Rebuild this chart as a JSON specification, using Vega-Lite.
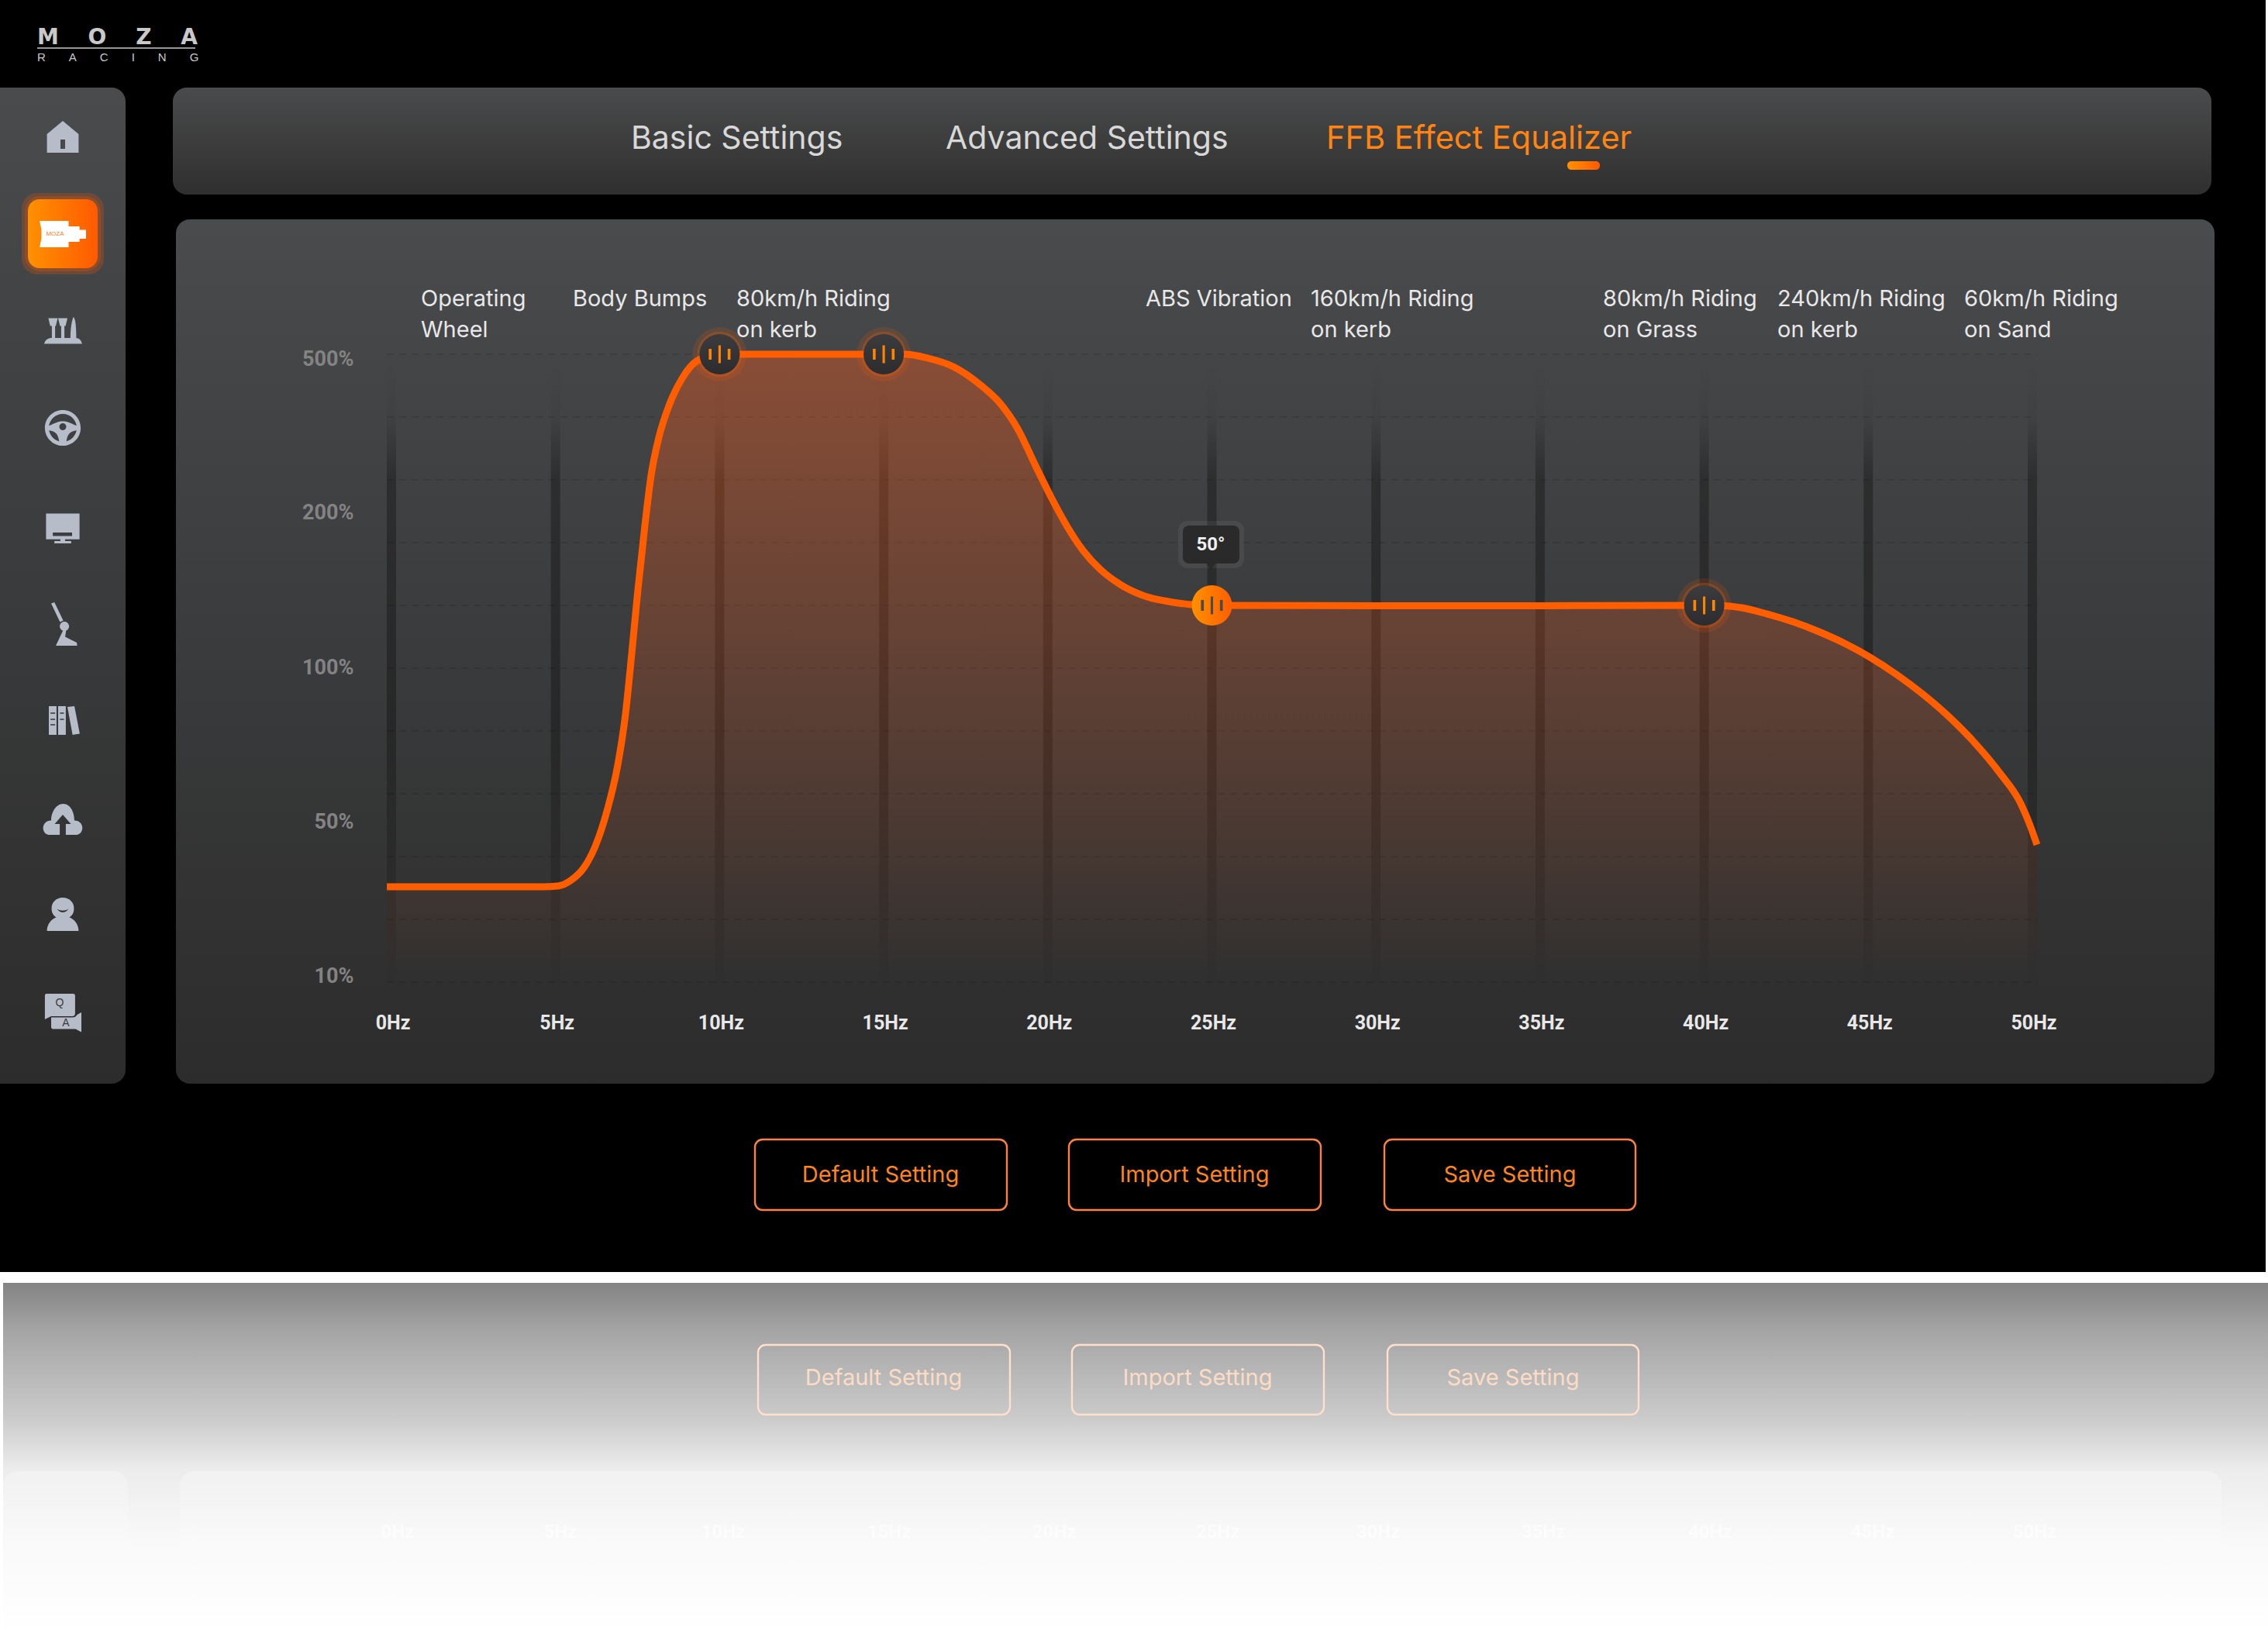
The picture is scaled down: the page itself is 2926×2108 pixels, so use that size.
{"$schema":"https://vega.github.io/schema/vega-lite/v6.json","width":2926,"height":2108,"padding":0,"autosize":{"type":"fit","contains":"padding"},"background":"#ffffff","config":{"view":{"stroke":null},"axis":{"title":null}},
"datasets":{
"curve":[{"hz":-0.14,"pct":34.3},{"hz":4.61,"pct":34.3},{"hz":5.08,"pct":34.5},{"hz":5.48,"pct":36},{"hz":5.86,"pct":39.1},{"hz":6.21,"pct":44.6},{"hz":6.57,"pct":54.6},{"hz":6.9,"pct":69.4},{"hz":7.13,"pct":85.2},{"hz":7.32,"pct":108.9},{"hz":7.51,"pct":149.9},{"hz":7.72,"pct":190.4},{"hz":7.91,"pct":267.4},{"hz":8.15,"pct":341.5},{"hz":8.46,"pct":402.2},{"hz":8.86,"pct":454.1},{"hz":9.33,"pct":488.1},{"hz":10,"pct":500},{"hz":15,"pct":500},{"hz":15.66,"pct":500},{"hz":16.34,"pct":492.6},{"hz":17.12,"pct":476.3},{"hz":17.9,"pct":443.7},{"hz":18.54,"pct":406.7},{"hz":19.08,"pct":357.8},{"hz":19.65,"pct":283.7},{"hz":20.12,"pct":224.4},{"hz":20.6,"pct":189.9},{"hz":21.07,"pct":175.1},{"hz":21.61,"pct":162.7},{"hz":22.25,"pct":152.8},{"hz":23.03,"pct":145.4},{"hz":23.81,"pct":142},{"hz":24.37,"pct":140.5},{"hz":25,"pct":140},{"hz":30,"pct":139.8},{"hz":35,"pct":139.8},{"hz":40,"pct":140},{"hz":40.58,"pct":139.8},{"hz":41.14,"pct":138.5},{"hz":41.92,"pct":134.5},{"hz":42.7,"pct":129.6},{"hz":43.5,"pct":123.2},{"hz":44.28,"pct":115.8},{"hz":45.06,"pct":106.9},{"hz":45.86,"pct":98},{"hz":46.64,"pct":91.9},{"hz":47.42,"pct":84.9},{"hz":48.22,"pct":76.5},{"hz":49.01,"pct":66.6},{"hz":49.65,"pct":56.8},{"hz":49.95,"pct":49.5},{"hz":50.14,"pct":45}],
"tracks":[{"hz":0,"top":500,"bottom":10},{"hz":5,"top":500,"bottom":10},{"hz":10,"top":500,"bottom":10},{"hz":15,"top":500,"bottom":10},{"hz":20,"top":500,"bottom":10},{"hz":25,"top":500,"bottom":10},{"hz":30,"top":500,"bottom":10},{"hz":35,"top":500,"bottom":10},{"hz":40,"top":500,"bottom":10},{"hz":45,"top":500,"bottom":10},{"hz":50,"top":500,"bottom":10}],
"grid":[{"level":500,"a":-0.14,"b":50.14},{"level":380,"a":-0.14,"b":50.14},{"level":260,"a":-0.14,"b":50.14},{"level":180,"a":-0.14,"b":50.14},{"level":140,"a":-0.14,"b":50.14},{"level":100,"a":-0.14,"b":50.14},{"level":80,"a":-0.14,"b":50.14},{"level":60,"a":-0.14,"b":50.14},{"level":42,"a":-0.14,"b":50.14},{"level":26,"a":-0.14,"b":50.14},{"level":10,"a":-0.14,"b":50.14}],
"knobs":[{"hz":10,"pct":500,"state":"idle"},{"hz":15,"pct":500,"state":"idle"},{"hz":40,"pct":140,"state":"idle"},{"hz":25,"pct":140,"state":"active"}],
"ylabels":[{"hz":0,"pct":500},{"hz":0,"pct":200},{"hz":0,"pct":100},{"hz":0,"pct":50},{"hz":0,"pct":10}],
"icons":[{"icon":"home","x":81,"y":177},{"icon":"device","x":81,"y":302},{"icon":"pedals","x":81,"y":427},{"icon":"wheel","x":81,"y":552},{"icon":"monitor","x":81,"y":681},{"icon":"shifter","x":81,"y":805},{"icon":"books","x":81,"y":930},{"icon":"cloud","x":81,"y":1057},{"icon":"person","x":81,"y":1180},{"icon":"qa","x":81,"y":1306}]
},
"resolve":{"scale":{"x":"independent","y":"independent"}},
"layer":[
{"encoding":{"x":{"field":"x","type":"quantitative","scale":{"domain":[0,2926],"range":[0,2926],"nice":false,"zero":false},"axis":null},"y":{"field":"y","type":"quantitative","scale":{"domain":[0,2108],"range":[0,2108],"nice":false,"zero":false},"axis":null},"x2":{"field":"x2"},"y2":{"field":"y2"}},
"layer":[
{"data":{"values":[{"x":0,"x2":2923,"y":0,"y2":1641}]},"mark":{"type":"rect","fill":"#000000"}},
{"data":{"values":[{"x":4,"x2":2926,"y":1655,"y2":2108}]},"mark":{"type":"rect","fill":{"gradient":"linear","x1":0,"y1":0,"x2":0,"y2":1,"stops":[{"offset":0,"color":"#838383"},{"offset":0.137,"color":"#a5a5a5"},{"offset":0.386,"color":"#cbcbcb"},{"offset":0.53,"color":"#ececec"},{"offset":0.735,"color":"#f9f9f9"},{"offset":1,"color":"#ffffff"}]}}},
{"data":{"values":[{"x":4,"x2":165,"y":1898,"y2":2040},{"x":232,"x2":2866,"y":1898,"y2":2040}]},"mark":{"type":"rect","cornerRadius":18,"fill":{"gradient":"linear","x1":0,"y1":0,"x2":0,"y2":1,"stops":[{"offset":0,"color":"rgba(255,255,255,0.28)"},{"offset":1,"color":"rgba(255,255,255,0)"}]}}},
{"data":{"values":[{"x":0,"x2":162,"y":113,"y2":1398}]},"mark":{"type":"rect","cornerRadiusTopRight":18,"cornerRadiusBottomRight":18,"fill":{"gradient":"linear","x1":0,"y1":0,"x2":0,"y2":1,"stops":[{"offset":0,"color":"#4a4b4c"},{"offset":0.2,"color":"#434445"},{"offset":0.5,"color":"#3a3b3c"},{"offset":1,"color":"#2c2c2c"}]}}},
{"data":{"values":[{"x":223,"x2":2853,"y":113,"y2":251}]},"mark":{"type":"rect","cornerRadius":18,"fill":{"gradient":"linear","x1":0,"y1":0,"x2":0,"y2":1,"stops":[{"offset":0,"color":"#4a4b4c"},{"offset":1,"color":"#2f2f2f"}]}}},
{"data":{"values":[{"x":227,"x2":2857,"y":283,"y2":1398}]},"mark":{"type":"rect","cornerRadius":18,"fill":{"gradient":"linear","x1":0,"y1":0,"x2":0,"y2":1,"stops":[{"offset":0,"color":"#4a4b4c"},{"offset":0.2,"color":"#434445"},{"offset":0.5,"color":"#3a3b3c"},{"offset":1,"color":"#2c2c2c"}]}}},
{"data":{"values":[{"x":28,"x2":134,"y":249,"y2":354},{"x":32,"x2":130,"y":253,"y2":350}]},"mark":{"type":"rect","cornerRadius":20,"fill":"#ff5a00","opacity":0.22}},
{"data":{"values":[{"x":36,"x2":126,"y":257,"y2":346}]},"mark":{"type":"rect","cornerRadius":15,"fill":{"gradient":"linear","x1":0,"y1":0,"x2":1,"y2":0,"stops":[{"offset":0,"color":"#ff9100"},{"offset":1,"color":"#ff5a00"}]}}},
{"data":{"values":[{"x":2022,"x2":2064,"y":208,"y2":219}]},"mark":{"type":"rect","cornerRadius":5,"fill":{"gradient":"linear","x1":0,"y1":0,"x2":1,"y2":0,"stops":[{"offset":0,"color":"#ff9100"},{"offset":1,"color":"#ff5a00"}]}}},
{"data":{"values":[{"x":974,"x2":1299,"y":1470,"y2":1561},{"x":1379,"x2":1704,"y":1470,"y2":1561},{"x":1786,"x2":2110,"y":1470,"y2":1561}]},"mark":{"type":"rect","filled":false,"stroke":"#ff8040","strokeWidth":2.4,"cornerRadius":10}},
{"data":{"values":[{"x":978,"x2":1303,"y":1735,"y2":1825},{"x":1383,"x2":1708,"y":1735,"y2":1825},{"x":1790,"x2":2114,"y":1735,"y2":1825}]},"mark":{"type":"rect","filled":false,"stroke":"#ffe0cc","strokeWidth":2.4,"cornerRadius":10}},
{"data":{"values":[{"x":48,"x2":252,"y":62,"y2":62}]},"mark":{"type":"rule","stroke":"#c9c9c9","strokeWidth":1.5}},
{"data":{"name":"icons"},"mark":{"type":"point","filled":true,"size":3600,"opacity":1,"strokeWidth":0},"encoding":{"x2":null,"y2":null,"color":{"condition":{"test":"datum.icon==='device'","value":"#ffffff"},"value":"#b6bdc9"},"shape":{"field":"icon","type":"nominal","legend":null,"scale":{"domain":["home","device","pedals","wheel","monitor","shifter","books","cloud","person","qa"],"range":[
"M0,-0.7 L0.68,-0.13 L0.68,0.67 L-0.68,0.67 L-0.68,-0.13 Z M-0.1,0.1 L-0.1,0.5 L0.1,0.5 L0.1,0.1 Z",
"M-1,-0.57 L0.25,-0.57 L0.25,-0.33 L0.72,-0.33 L0.72,-0.18 L1,-0.18 L1,0.2 L0.72,0.2 L0.72,0.33 L0.25,0.33 L0.25,0.57 L-1,0.57 L-0.92,0.2 L-0.92,-0.2 Z",
"M-0.62,-0.55 L-0.22,-0.55 L-0.3,-0.22 L-0.33,-0.22 L-0.33,0.35 L-0.47,0.35 L-0.47,-0.22 L-0.54,-0.22 Z M-0.2,-0.55 L0.2,-0.55 L0.12,-0.22 L0.07,-0.22 L0.07,0.35 L-0.07,0.35 L-0.07,-0.22 L-0.12,-0.22 Z M0.45,-0.6 C0.55,-0.55 0.58,-0.2 0.58,0.35 L0.33,0.35 C0.33,0 0.35,-0.3 0.45,-0.6 Z M-0.8,0.55 C-0.75,0.35 -0.6,0.3 -0.45,0.3 L0.55,0.3 C0.7,0.3 0.8,0.4 0.83,0.55 Z",
"M0.77,0 A0.77,0.77 0 1 1 -0.77,0 A0.77,0.77 0 1 1 0.77,0 Z M0.6,0 A0.6,0.6 0 1 0 -0.6,0 A0.6,0.6 0 1 0 0.6,0 Z M-0.62,-0.08 C-0.3,-0.2 -0.25,-0.28 0,-0.28 C0.25,-0.28 0.3,-0.2 0.62,-0.08 L0.62,0.1 C0.3,0.15 0.2,0.25 0.15,0.62 L-0.15,0.62 C-0.2,0.25 -0.3,0.15 -0.62,0.1 Z M0.15,-0.05 A0.15,0.15 0 1 0 -0.15,-0.05 A0.15,0.15 0 1 0 0.15,-0.05 Z",
"M-0.72,-0.62 L0.72,-0.62 L0.72,0.49 L-0.72,0.49 Z M-0.43,0.2 L-0.43,0.35 L0.4,0.35 L0.4,0.2 Z M-0.1,0.49 L0.1,0.49 L0.1,0.57 L0.36,0.57 L0.36,0.67 L-0.36,0.67 L-0.36,0.57 L-0.1,0.57 Z",
"M-0.5,-0.88 L-0.36,-0.93 L0.02,-0.15 L-0.12,-0.08 Z M0.27,0.1 A0.2,0.2 0 1 1 -0.13,0.1 A0.2,0.2 0 1 1 0.27,0.1 Z M0,0.3 L0.15,0.25 L0.1,0.55 L0.6,0.8 L0.62,0.93 L-0.3,0.93 Z",
"M-0.6,-0.63 L-0.27,-0.63 L-0.27,0.6 L-0.6,0.6 Z M-0.53,-0.36 L-0.53,-0.31 L-0.33,-0.31 L-0.33,-0.36 Z M-0.53,-0.09 L-0.53,-0.04 L-0.33,-0.04 L-0.33,-0.09 Z M-0.53,0.14 L-0.53,0.19 L-0.33,0.19 L-0.33,0.14 Z M-0.2,-0.63 L0.13,-0.63 L0.13,0.6 L-0.2,0.6 Z M-0.12,-0.36 L-0.12,-0.31 L0.05,-0.31 L0.05,-0.36 Z M-0.12,-0.09 L-0.12,-0.04 L0.05,-0.04 L0.05,-0.09 Z M0.2,-0.6 L0.5,-0.63 L0.73,0.55 L0.42,0.6 Z",
"M-0.55,0.67 C-0.95,0.67 -0.95,0.05 -0.5,0.05 C-0.5,-0.3 -0.3,-0.67 0.02,-0.67 C0.33,-0.67 0.5,-0.3 0.5,0.05 C0.95,0.05 0.95,0.67 0.55,0.67 Z M0,-0.2 L-0.35,0.2 L-0.13,0.2 L-0.13,0.67 L0.13,0.67 L0.13,0.2 L0.35,0.2 Z",
"M0,-0.73 C0.3,-0.73 0.5,-0.5 0.48,-0.25 C0.48,-0.05 0.38,0.05 0.28,0.12 C0.5,0.2 0.68,0.42 0.68,0.7 L-0.68,0.7 C-0.68,0.42 -0.5,0.2 -0.28,0.12 C-0.38,0.05 -0.48,-0.05 -0.48,-0.25 C-0.5,-0.5 -0.3,-0.73 0,-0.73 Z M-0.25,-0.25 C-0.1,-0.05 0.1,-0.05 0.25,-0.25 C0.1,-0.15 -0.1,-0.15 -0.25,-0.25 Z",
"M-0.7,-0.8 L0.45,-0.8 Q0.53,-0.8 0.53,-0.7 L0.53,0.05 Q0.53,0.17 0.4,0.17 L-0.5,0.17 L-0.77,0.3 L-0.77,-0.72 Q-0.77,-0.8 -0.7,-0.8 Z M-0.5,0.22 L0.43,0.22 Q0.55,0.22 0.62,0.1 L0.8,0 L0.8,0.85 L0.55,0.72 L-0.42,0.72 Q-0.5,0.72 -0.5,0.62 Z"
]}}}}
]},
{"layer":[
{"data":{"name":"tracks"},"mark":{"type":"bar","size":12,"orient":"vertical","fill":{"gradient":"linear","x1":0,"y1":0,"x2":0,"y2":1,"stops":[{"offset":0,"color":"rgba(0,0,0,0)"},{"offset":0.1,"color":"rgba(0,0,0,0.04)"},{"offset":0.2,"color":"rgba(0,0,0,0.3)"},{"offset":0.6,"color":"rgba(0,0,0,0.3)"},{"offset":0.85,"color":"rgba(0,0,0,0.15)"},{"offset":1,"color":"rgba(0,0,0,0.02)"}]}},"encoding":{"x":{"field":"hz","type":"quantitative","scale":{"domain":[0,50],"range":[505,2622],"nice":false,"zero":false,"padding":0},"axis":null},"y":{"field":"top","type":"quantitative","scale":{"domain":[10,50,100,200,500],"range":[1267,1064.5,862,659.5,457],"nice":false,"zero":false},"axis":null},"y2":{"field":"bottom"}}},
{"data":{"name":"grid"},"mark":{"type":"rule","stroke":"rgba(0,0,0,0.14)","strokeWidth":1.5,"strokeDash":[9,7]},"encoding":{"x":{"field":"a","type":"quantitative","axis":null},"x2":{"field":"b"},"y":{"field":"level","type":"quantitative","axis":null}}},
{"data":{"name":"curve"},"mark":{"type":"area","interpolate":"monotone","fill":{"gradient":"linear","x1":0,"y1":0,"x2":0,"y2":1,"stops":[{"offset":0,"color":"rgba(255,90,25,0.37)"},{"offset":0.5,"color":"rgba(255,90,25,0.2)"},{"offset":0.8,"color":"rgba(255,90,25,0.09)"},{"offset":1,"color":"rgba(255,90,25,0)"}]}},"encoding":{"x":{"field":"hz","type":"quantitative","axis":null},"y":{"field":"pct","type":"quantitative","axis":null},"y2":{"datum":10}}},
{"data":{"name":"curve"},"mark":{"type":"line","interpolate":"monotone","stroke":"#ff5e00","strokeWidth":9,"strokeCap":"butt"},"encoding":{"x":{"field":"hz","type":"quantitative","axis":null},"y":{"field":"pct","type":"quantitative","axis":null}}},
{"data":{"name":"knobs"},"transform":[{"filter":"datum.state==='idle'"}],"mark":{"type":"point","shape":"circle","filled":true,"size":4900,"fill":"#ff5e00","opacity":0.14,"strokeWidth":0},"encoding":{"x":{"field":"hz","type":"quantitative","axis":null},"y":{"field":"pct","type":"quantitative","axis":null}}},
{"data":{"name":"knobs"},"transform":[{"filter":"datum.state==='idle'"}],"mark":{"type":"point","shape":"circle","filled":true,"size":3400,"fill":"#ff5e00","opacity":0.25,"strokeWidth":0},"encoding":{"x":{"field":"hz","type":"quantitative","axis":null},"y":{"field":"pct","type":"quantitative","axis":null}}},
{"data":{"name":"knobs"},"transform":[{"filter":"datum.state==='idle'"}],"mark":{"type":"point","shape":"circle","filled":true,"size":2704,"opacity":1,"strokeWidth":0,"fill":{"gradient":"linear","x1":0,"y1":0,"x2":0,"y2":1,"stops":[{"offset":0,"color":"#3c3c3e"},{"offset":1,"color":"#2c2c2e"}]}},"encoding":{"x":{"field":"hz","type":"quantitative","axis":null},"y":{"field":"pct","type":"quantitative","axis":null}}},
{"data":{"name":"knobs"},"transform":[{"filter":"datum.state==='active'"}],"mark":{"type":"point","shape":"circle","filled":true,"size":2704,"opacity":1,"strokeWidth":0,"fill":{"gradient":"linear","x1":0,"y1":0,"x2":1,"y2":0,"stops":[{"offset":0,"color":"#ff9100"},{"offset":1,"color":"#ff5e00"}]}},"encoding":{"x":{"field":"hz","type":"quantitative","axis":null},"y":{"field":"pct","type":"quantitative","axis":null}}},
{"data":{"name":"knobs"},"mark":{"type":"point","filled":true,"size":2704,"opacity":1,"strokeWidth":0,"shape":"M-0.06,-0.44 L0.06,-0.44 L0.06,0.44 L-0.06,0.44 Z M-0.54,-0.27 L-0.4,-0.27 L-0.4,0.27 L-0.54,0.27 Z M0.4,-0.27 L0.54,-0.27 L0.54,0.27 L0.4,0.27 Z"},"encoding":{"x":{"field":"hz","type":"quantitative","axis":null},"y":{"field":"pct","type":"quantitative","axis":null},"color":{"condition":{"test":"datum.state==='active'","value":"#4a4a4a"},"value":"#ff8400"}}}
]},
{"layer":[{"data":{"name":"ylabels"},"mark":{"type":"point","opacity":0},"encoding":{"x":{"field":"hz","type":"quantitative","scale":{"domain":[0,50],"range":[505,2622],"nice":false,"zero":false},"axis":{"values":[0,5,10,15,20,25,30,35,40,45,50],"labelExpr":"datum.value+'Hz'","domain":false,"ticks":false,"grid":false,"title":null,"orient":"bottom","zindex":2,"labelFont":"Roboto","labelFontWeight":"bold","labelFontSize":25,"labelColor":"#e8e8e8","labelBaseline":"middle","labelPadding":0,"offset":-789,"labelOffset":1.5,"labelFlush":false,"labelOverlap":false}},"y":{"field":"pct","type":"quantitative","scale":{"domain":[10,50,100,200,500],"range":[1259,1060,861,661,463],"nice":false,"zero":false},"axis":{"values":[500,200,100,50,10],"labelExpr":"datum.value+'%'","domain":false,"ticks":false,"grid":false,"title":null,"orient":"left","zindex":2,"offset":-456,"labelPadding":0,"labelFont":"Roboto","labelFontWeight":"bold","labelFontSize":27,"labelColor":"#838383","labelOverlap":false,"labelFlush":false}}}}]},
{"encoding":{"x":{"field":"x","type":"quantitative","scale":{"domain":[0,2926],"range":[0,2926],"nice":false,"zero":false},"axis":null},"y":{"field":"y","type":"quantitative","scale":{"domain":[0,2108],"range":[0,2108],"nice":false,"zero":false},"axis":null}},
"layer":[
{"data":{"values":[{"x":1520,"x2":1605,"y":672,"y2":733}]},"mark":{"type":"rect","cornerRadius":12,"fill":"#ffffff","opacity":0.06},"encoding":{"x2":{"field":"x2"},"y2":{"field":"y2"}}},
{"data":{"values":[{"x":1526,"x2":1599,"y":678,"y2":727}]},"mark":{"type":"rect","cornerRadius":8,"fill":"#2a2a2b"},"encoding":{"x2":{"field":"x2"},"y2":{"field":"y2"}}},
{"data":{"values":[{"x":1562,"y":730}]},"mark":{"type":"point","shape":"triangle-down","filled":true,"size":220,"fill":"#2a2a2b","opacity":1,"strokeWidth":0}},
{"data":{"values":[{"x":1562,"y":703,"t":"50°"}]},"mark":{"type":"text","font":"Roboto","fontWeight":"bold","fontSize":24,"fill":"#f0f0f0","align":"center","baseline":"middle"},"encoding":{"text":{"field":"t"}}},
{"data":{"values":[{"x":543,"y":372,"t":"Operating\nWheel"},{"x":739,"y":372,"t":"Body Bumps"},{"x":950,"y":372,"t":"80km/h Riding\non kerb"},{"x":1478,"y":372,"t":"ABS Vibration"},{"x":1691,"y":372,"t":"160km/h Riding\non kerb"},{"x":2068,"y":372,"t":"80km/h Riding\non Grass"},{"x":2293,"y":372,"t":"240km/h Riding\non kerb"},{"x":2534,"y":372,"t":"60km/h Riding\non Sand"}]},"mark":{"type":"text","font":"Inter","fontSize":29,"fill":"#e8e8e8","align":"left","baseline":"top","lineBreak":"\n","lineHeight":40},"encoding":{"text":{"field":"t"}}},
{"data":{"values":[{"x":814,"y":180,"t":"Basic Settings"},{"x":1220,"y":180,"t":"Advanced Settings"}]},"mark":{"type":"text","font":"Inter","fontSize":41,"fill":"#d8d8d8","align":"left","baseline":"middle"},"encoding":{"text":{"field":"t"}}},
{"data":{"values":[{"x":1711,"y":180,"t":"FFB Effect Equalizer"}]},"mark":{"type":"text","font":"Inter","fontSize":41.5,"fill":"#ff8412","align":"left","baseline":"middle"},"encoding":{"text":{"field":"t"}}},
{"data":{"values":[{"x":1136,"y":1516,"t":"Default Setting"},{"x":1541,"y":1516,"t":"Import Setting"},{"x":1948,"y":1516,"t":"Save Setting"}]},"mark":{"type":"text","font":"Inter","fontSize":29,"fill":"#ff8419","align":"center","baseline":"middle"},"encoding":{"text":{"field":"t"}}},
{"data":{"values":[{"x":1140,"y":1778,"t":"Default Setting"},{"x":1545,"y":1778,"t":"Import Setting"},{"x":1952,"y":1778,"t":"Save Setting"}]},"mark":{"type":"text","font":"Inter","fontSize":29,"fill":"#fcdcc5","align":"center","baseline":"middle"},"encoding":{"text":{"field":"t"}}},
{"data":{"values":[{"x":513,"y":1977,"t":"0Hz"},{"x":723,"y":1977,"t":"5Hz"},{"x":933,"y":1977,"t":"10Hz"},{"x":1147,"y":1977,"t":"15Hz"},{"x":1360,"y":1977,"t":"20Hz"},{"x":1571,"y":1977,"t":"25Hz"},{"x":1778,"y":1977,"t":"30Hz"},{"x":1991,"y":1977,"t":"35Hz"},{"x":2206,"y":1977,"t":"40Hz"},{"x":2416,"y":1977,"t":"45Hz"},{"x":2625,"y":1977,"t":"50Hz"}]},"mark":{"type":"text","font":"Roboto","fontWeight":"bold","fontSize":24,"fill":"#ffffff","opacity":0.7,"align":"center","baseline":"middle"},"encoding":{"text":{"field":"t"}}},
{"data":{"values":[{"x":71,"y":302,"t":"MOZA"}]},"mark":{"type":"text","font":"Liberation Sans","fontSize":8,"fill":"#ff7a20","align":"center","baseline":"middle"},"encoding":{"text":{"field":"t"}}},
{"data":{"values":[{"x":77,"y":1294,"t":"Q"},{"x":85,"y":1320,"t":"A"}]},"mark":{"type":"text","font":"Liberation Sans","fontSize":14,"fill":"#3a3a3a","align":"center","baseline":"middle"},"encoding":{"text":{"field":"t"}}},
{"data":{"values":[{"x":48,"y":49,"t":"M\u2003 O\u2003 Z\u2003 A"}]},"mark":{"type":"text","font":"DejaVu Sans","fontWeight":"bold","fontSize":28,"fill":"#c9c9c9","align":"left","baseline":"middle"},"encoding":{"text":{"field":"t"}}},
{"data":{"values":[{"x":48,"y":74,"t":"R\u2003\u2003A\u2003\u2003C\u2003\u2003I\u2003\u2003N\u2003\u2003G"}]},"mark":{"type":"text","font":"Liberation Sans","fontSize":15,"fill":"#c9c9c9","align":"left","baseline":"middle"},"encoding":{"text":{"field":"t"}}}
]}
]}
